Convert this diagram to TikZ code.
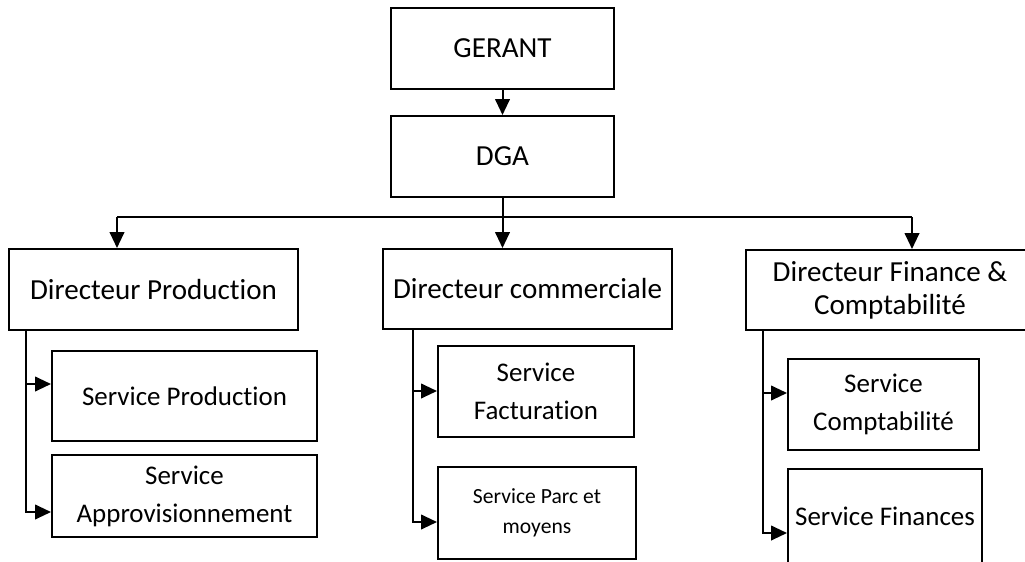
\documentclass[tikz,border=0pt]{standalone}
\usepackage{fontspec}
\setmainfont{Carlito}[Ligatures=NoCommon]
\usepackage{tikz}
\usetikzlibrary{arrows.meta, calc}

\begin{document}
\begin{tikzpicture}[x=0.75pt, y=-0.75pt, line width=1.5pt,
    boite/.style={draw, rectangle, inner sep=0pt, align=center,
      font=\fontsize{21.8}{28.5}\selectfont},
    service/.style={boite, font=\fontsize{20.2}{28.5}\selectfont},
    petite/.style={font=\fontsize{16.2}{22.5}\selectfont},
    fleche/.style={-{Triangle[length=12pt, width=11pt]}}]
      % 1. cadre de la page
      \useasboundingbox (0,0) rectangle (1025,561);
      \clip (0,0) rectangle (1025,561);

      % 2. direction
      \node[boite, minimum width=223*0.75pt, minimum height=81*0.75pt] (gerant) at (502.5,48.5) {GERANT};
      \node[boite, minimum width=223*0.75pt, minimum height=81*0.75pt] (dga) at (502.5,156.5) {DGA};

      % 3. directeurs
      \node[boite, minimum width=289*0.75pt, minimum height=81*0.75pt] (dir_prod) at (153.5,289.5) {Directeur Production};
      \node[boite, minimum width=289*0.75pt, minimum height=80*0.75pt] (dir_com) at (527.5,289) {Directeur commerciale};
      \node[boite, font=\fontsize{21.8}{24.75}\selectfont, minimum width=288*0.75pt, minimum height=80*0.75pt] (dir_fin) at (890,290) {Directeur Finance \&\\Comptabilité};

      % 4. services
      \node[service, minimum width=265*0.75pt, minimum height=90*0.75pt] (srv_prod) at (184.5,396) {Service Production};
      \node[service, minimum width=265*0.75pt, minimum height=82*0.75pt] (srv_appro) at (184.5,496) {Service\\Approvisionnement};
      \node[service, minimum width=196*0.75pt, minimum height=91*0.75pt] (srv_fact) at (536,391.5) {Service\\Facturation};
      \node[service, petite, minimum width=198*0.75pt, minimum height=92*0.75pt] (srv_parc) at (537,513) {Service Parc et\\moyens};
      \node[service, minimum width=191*0.75pt, minimum height=91*0.75pt] (srv_compta) at (883.5,404.5) {Service\\Comptabilité};
      \node[service, minimum width=194*0.75pt, minimum height=94*0.75pt] (srv_fin) at (885,516) {Service Finances};

      % 5. liaisons du haut
      \coordinate (bus_g) at (117,217);
      \coordinate (bus_d) at (912,217);
      \draw[fleche] (gerant.south) -- (dga.north);
      \draw[fleche] (dga.south) -- (dga.south |- dir_com.north);
      \draw (bus_g) -- (bus_d);
      \draw[fleche] (bus_g) -- (bus_g |- dir_prod.north);
      \draw[fleche] (bus_d) -- (bus_d |- dir_fin.north);

      % 6. liaisons vers les services
      \coordinate (p_a) at (26,384);
      \coordinate (p_b) at (26,512);
      \draw[fleche] (p_b |- dir_prod.south) -- (p_b) -- (p_b -| srv_appro.west);
      \draw[fleche] (p_a) -- (p_a -| srv_prod.west);

      \coordinate (c_a) at (413,391);
      \coordinate (c_b) at (413,522);
      \draw[fleche] (c_b |- dir_com.south) -- (c_b) -- (c_b -| srv_parc.west);
      \draw[fleche] (c_a) -- (c_a -| srv_fact.west);

      \coordinate (f_a) at (763,393);
      \coordinate (f_b) at (763,533);
      \draw[fleche] (f_b |- dir_fin.south) -- (f_b) -- (f_b -| srv_fin.west);
      \draw[fleche] (f_a) -- (f_a -| srv_compta.west);
\end{tikzpicture}
\end{document}
